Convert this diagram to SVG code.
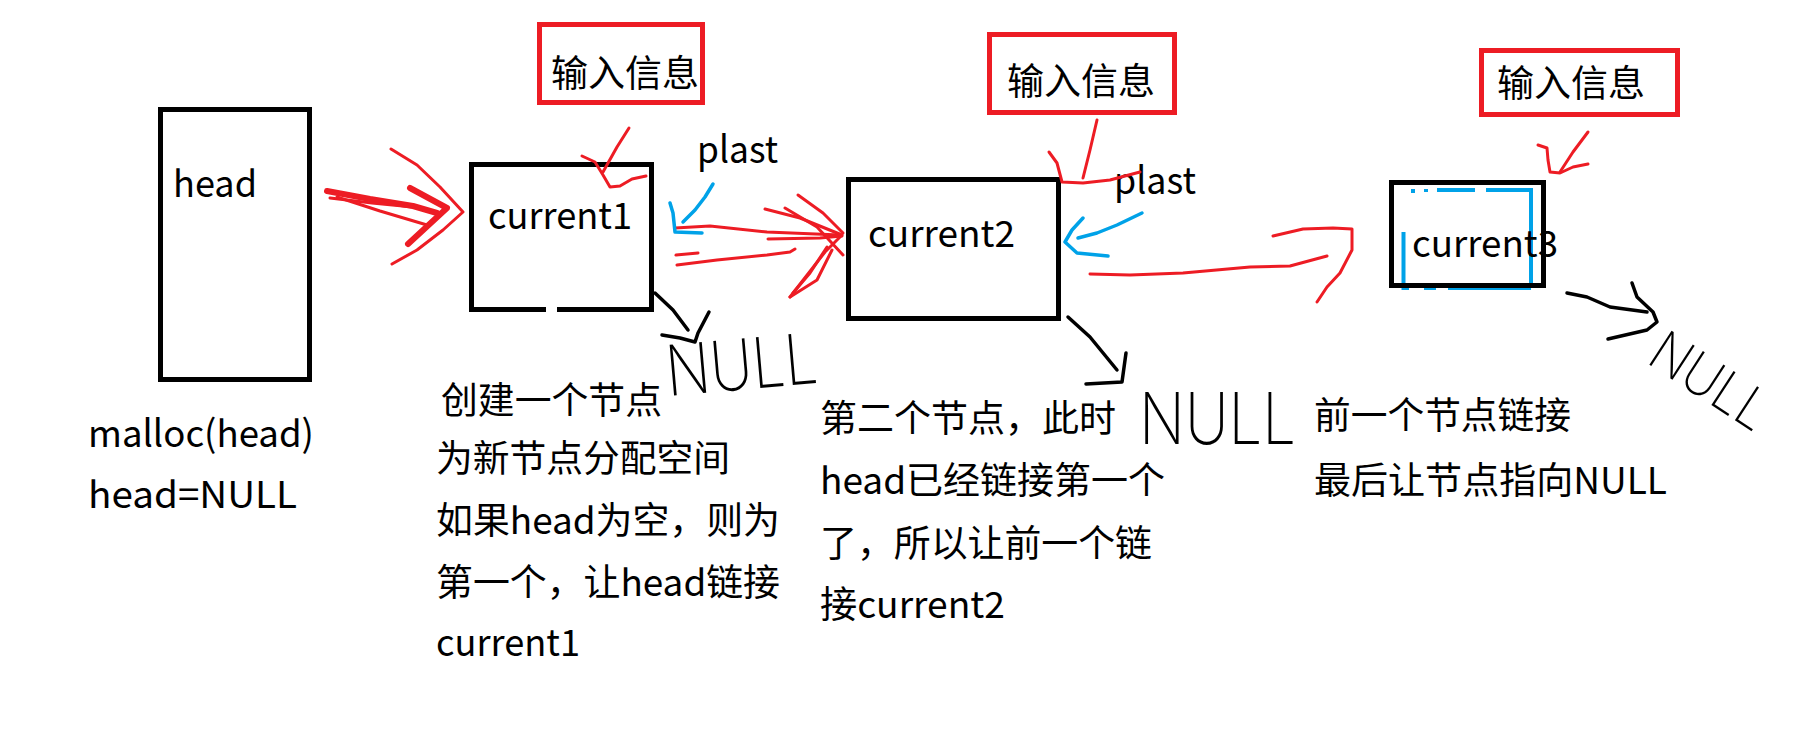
<svg xmlns="http://www.w3.org/2000/svg" width="1803" height="738" viewBox="0 0 1803 738">
<style>
.t{font-family:"Microsoft YaHei","Noto Sans CJK SC",sans-serif;font-size:37px;fill:#000}
.box{fill:none;stroke:#000;stroke-width:5}
.ib{fill:none;stroke:#ED1C24;stroke-width:5}
.r{fill:none;stroke:#ED1C24;stroke-width:3;stroke-linecap:round;stroke-linejoin:round}
.rt{fill:none;stroke:#ED1C24;stroke-width:6;stroke-linecap:round;stroke-linejoin:round}
.b{fill:none;stroke:#00A2E8;stroke-width:3.5;stroke-linecap:round;stroke-linejoin:round}
.k{fill:none;stroke:#000;stroke-width:3.5;stroke-linecap:round;stroke-linejoin:round}
.bl{fill:none;stroke:#00A2E8;stroke-width:4}
.nl{font-family:Inter,"Open Sans","DejaVu Sans",sans-serif;font-weight:200;fill:#000}
</style>
<rect width="1803" height="738" fill="#fff"/>

<g id="head">
<rect class="box" x="160.5" y="109.5" width="149" height="270"/>
<text class="t" x="173" y="197" textLength="84" lengthAdjust="spacingAndGlyphs">head</text>
</g>

<g id="current1">
<path class="box" d="M546,309.5 H471.5 V164.5 H651.5 V309.5 H557"/>
<text class="t" x="488" y="229" textLength="144" lengthAdjust="spacingAndGlyphs">current1</text>
</g>

<g id="current2">
<rect class="box" x="848.5" y="179.5" width="210" height="139"/>
<text class="t" x="868" y="247" textLength="147" lengthAdjust="spacingAndGlyphs">current2</text>
</g>

<g id="current3">
<path class="bl" d="M1413,189 V193 M1426,189 V192 M1437,190 H1475 M1486,190 H1531 V287 M1531,288 H1448 M1436,288 H1424 M1409,288 H1403.5 V232"/>
<rect class="box" x="1391.5" y="182.5" width="152" height="103"/>
<text class="t" x="1412" y="257" textLength="146" lengthAdjust="spacingAndGlyphs">current3</text>
</g>

<g id="input1">
<rect class="ib" x="539.5" y="24.5" width="163" height="78"/>
<text class="t" x="551" y="87">输入信息</text>
</g>
<g id="input2">
<rect class="ib" x="989.5" y="34.5" width="185" height="78"/>
<text class="t" x="1007" y="95">输入信息</text>
</g>
<g id="input3">
<rect class="ib" x="1481.5" y="50.5" width="196" height="64"/>
<text class="t" x="1497" y="97">输入信息</text>
</g>

<g id="plast1"><text class="t" x="697" y="163" textLength="81" lengthAdjust="spacingAndGlyphs">plast</text></g>
<g id="plast2"><text class="t" x="1114" y="194" textLength="82" lengthAdjust="spacingAndGlyphs">plast</text></g>

<g id="null1"><text class="nl" x="668" y="396" font-size="70" textLength="152" lengthAdjust="spacingAndGlyphs" transform="rotate(-5 668 396)">NULL</text></g>
<g id="null2"><text class="nl" x="1139" y="444" font-size="72" textLength="157" lengthAdjust="spacingAndGlyphs">NULL</text></g>
<g id="null3"><text class="nl" x="1645" y="362" font-size="56" textLength="130" lengthAdjust="spacingAndGlyphs" transform="rotate(33 1645 362)">NULL</text></g>

<g id="note-head">
<text class="t" x="88" y="447" textLength="226" lengthAdjust="spacingAndGlyphs">malloc(head)</text>
<text class="t" x="88" y="508" textLength="209" lengthAdjust="spacingAndGlyphs">head=NULL</text>
</g>

<g id="note-current1">
<text class="t" x="441" y="414" textLength="221" lengthAdjust="spacingAndGlyphs">创建一个节点</text>
<text class="t" x="436" y="472" textLength="294" lengthAdjust="spacingAndGlyphs">为新节点分配空间</text>
<text class="t" x="436" y="534" textLength="344" lengthAdjust="spacingAndGlyphs">如果head为空，则为</text>
<text class="t" x="436" y="596" textLength="344" lengthAdjust="spacingAndGlyphs">第一个，让head链接</text>
<text class="t" x="436" y="656" textLength="144" lengthAdjust="spacingAndGlyphs">current1</text>
</g>

<g id="note-current2">
<text class="t" x="820" y="432" textLength="296" lengthAdjust="spacingAndGlyphs">第二个节点，此时</text>
<text class="t" x="820" y="494" textLength="345" lengthAdjust="spacingAndGlyphs">head已经链接第一个</text>
<text class="t" x="820" y="557" textLength="332" lengthAdjust="spacingAndGlyphs">了，所以让前一个链</text>
<text class="t" x="820" y="618" textLength="185" lengthAdjust="spacingAndGlyphs">接current2</text>
</g>

<g id="note-current3">
<text class="t" x="1314" y="429" textLength="257" lengthAdjust="spacingAndGlyphs">前一个节点链接</text>
<text class="t" x="1314" y="494" textLength="353" lengthAdjust="spacingAndGlyphs">最后让节点指向NULL</text>
</g>

<g id="connectors">
<!-- head -> current1 -->
<polyline class="rt" points="327,191 370,199 413,206 437,213"/>
<polyline class="r" points="330,198 372,203 413,207"/>
<polyline class="r" points="337,197 380,211 427,225"/>
<polyline class="rt" points="410,188 447,208 408,244"/>
<polyline class="r" points="391,149 417,165 440,187 463,212 443,230 417,250 392,264"/>
<!-- input1 -> current1 -->
<polyline class="r" points="629,128 617,147 603,172"/>
<polyline class="r" points="582,156 595,162 603,175 610,187 620,186 632,179 646,176"/>
<!-- current1 -> current2 -->
<polyline class="r" points="675,228 710,226 767,232 840,235"/>
<polyline class="r" points="677,265 717,260 767,255 790,252 795,249"/>
<polyline class="r" points="676,255 698,253"/>
<polyline class="r" points="768,239 820,238 842,236"/>
<polyline class="r" points="765,209 800,218 842,235 825,252 790,297"/>
<polyline class="r" points="798,195 823,213 843,233"/>
<polyline class="r" points="785,208 817,227 843,255"/>
<polyline class="r" points="827,247 810,273 793,293"/>
<polyline class="r" points="832,250 817,280 790,297"/>
<!-- plast1 -->
<polyline class="b" points="713,184 705,197 695,210 683,222"/>
<polyline class="b" points="670,203 673,213 675,232 702,233"/>
<!-- input2 -> current2 -->
<polyline class="r" points="1097,120 1090,150 1083,178"/>
<polyline class="r" points="1049,152 1057,163 1062,182 1083,183 1110,180 1140,172"/>
<!-- plast2 -->
<polyline class="b" points="1142,213 1117,225 1097,233 1078,238"/>
<polyline class="b" points="1083,218 1072,230 1065,242 1077,253 1108,256"/>
<!-- current2 -> current3 -->
<polyline class="r" points="1090,274 1130,275 1183,273 1250,267 1290,266 1327,256"/>
<polyline class="r" points="1273,236 1303,229 1333,228 1352,229 1352,250 1340,273 1327,287 1317,302"/>
<!-- input3 -> current3 -->
<polyline class="r" points="1588,132 1573,152 1560,172"/>
<polyline class="r" points="1538,145 1547,148 1548,160 1550,172 1560,173 1573,167 1588,164"/>
<!-- to NULL -->
<polyline class="k" points="655,293 673,310 688,330"/>
<polyline class="k" points="662,335 680,338 695,342 698,333 709,312"/>
<polyline class="k" points="1068,317 1090,337 1117,370"/>
<polyline class="k" points="1086,384 1122,382 1126,353"/>
<polyline class="k" points="1567,293 1587,297 1610,307 1647,312"/>
<polyline class="k" points="1632,283 1637,297 1653,312 1657,322 1647,330 1608,339"/>
</g>
</svg>
